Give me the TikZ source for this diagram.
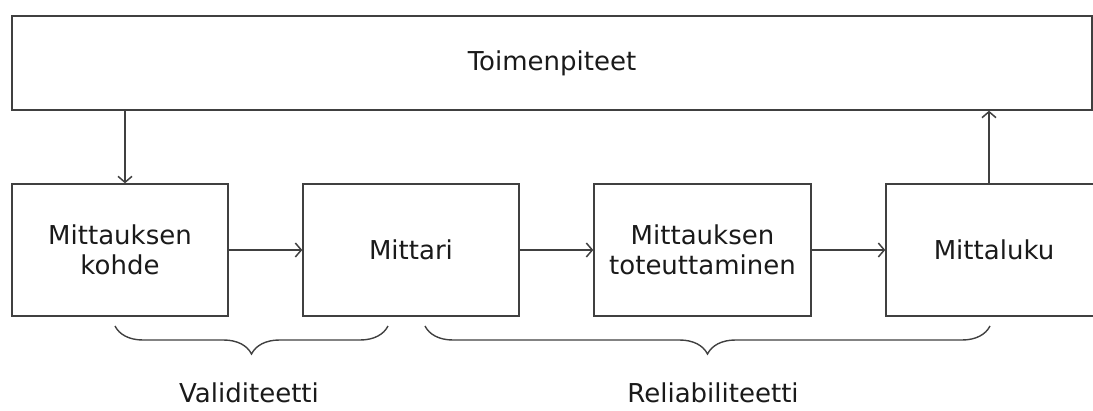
\documentclass[tikz,border=0pt]{standalone}
\usepackage{fontspec}
\setmainfont{DejaVu Sans}
\usetikzlibrary{arrows.meta,decorations.pathreplacing}
\definecolor{linec}{HTML}{404040}
\definecolor{textc}{HTML}{1A1A1A}
\tikzset{
  box/.style={draw=linec, line width=1.4pt, rectangle, align=center, text=textc,
    font=\fontsize{26}{30}\selectfont, inner sep=0pt},
  conn/.style={draw=linec, line width=1.4pt, -{Straight Barb[length=6pt,width=14pt,line width=1.5pt]}},
  bracestyle/.style={draw=linec, line width=1.4pt, decorate,
    decoration={brace, mirror, amplitude=28pt}},
  lbl/.style={text=textc, font=\fontsize{26}{30}\selectfont, anchor=base, inner sep=0pt}
}
\begin{document}
\begin{tikzpicture}[x=1pt,y=-1pt]
\useasboundingbox (0,0) rectangle (1093,410);
\node[box, minimum width=1080pt, minimum height=94pt] (top) at (552,63) {Toimenpiteet};
\node[box, minimum width=216pt, minimum height=132pt] (b1) at (120,250) {Mittauksen\\kohde};
\node[box, minimum width=216pt, minimum height=132pt] (b2) at (411,250) {Mittari};
\node[box, minimum width=217pt, minimum height=132pt] (b3) at (702.5,250) {Mittauksen\\toteuttaminen};
\node[box, minimum width=216pt, minimum height=132pt] (b4) at (994,250) {Mittaluku};
\draw[conn] ([xshift=5pt]b1.north |- top.south) -- ([xshift=5pt]b1.north);
\draw[conn] ([xshift=-5pt]b4.north) -- ([xshift=-5pt]b4.north |- top.south);
\draw[conn] (b1.east) -- (b2.west);
\draw[conn] (b2.east) -- (b3.west);
\draw[conn] (b3.east) -- (b4.west);
\coordinate (v1) at (115,326);
\coordinate (v2) at (388,326);
\coordinate (r1) at (425,326);
\coordinate (r2) at (990,326);
\draw[bracestyle] (v1) -- (v2);
\draw[bracestyle] (r1) -- (r2);
\node[lbl] (val) at (249,402) {Validiteetti};
\node[lbl] (rel) at (713,402) {Reliabiliteetti};
\end{tikzpicture}
\end{document}
